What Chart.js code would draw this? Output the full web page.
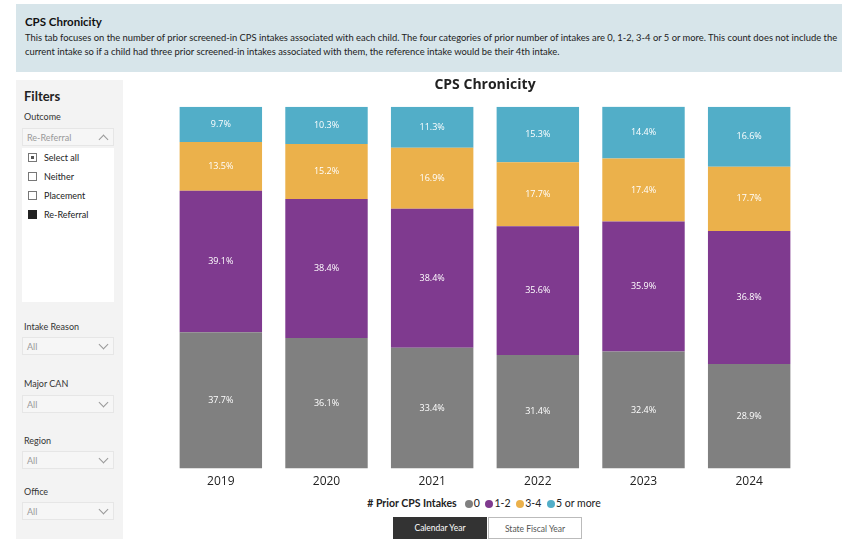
<!DOCTYPE html>
<html>
<head>
<meta charset="utf-8">
<script src="https://cdn.jsdelivr.net/npm/chart.js@4"></script>
<style>
  body { margin: 0; width: 842px; height: 539px; background: #fff; position: relative; overflow: hidden; font-family: Lato, "Open Sans", sans-serif; }
  .header { position: absolute; left: 16px; top: 4px; width: 826px; height: 68px; background: #d7e5ea; }
  .header h1 { position: absolute; left: 9px; top: 11px; margin: 0; font-size: 11.5px; font-weight: bold; color: #111; }
  .header p { position: absolute; left: 9px; top: 27px; margin: 0; font-size: 9.4px; line-height: 14px; color: #222; white-space: nowrap; }
  .panel { position: absolute; left: 16px; top: 80px; width: 107px; height: 459px; background: #f3f3f3; }
  .panel .t { position: absolute; left: 8px; top: 8px; font-size: 13px; font-weight: bold; color: #222; }
  .lbl { position: absolute; left: 8px; font-size: 9px; color: #333; }
  .dd { position: absolute; left: 6px; width: 92px; height: 18px; background: #f6f6f6; border: 1px solid #e6e6e6; box-sizing: border-box; font-size: 9px; color: #999; }
  .dd span { position: absolute; left: 4px; top: 3px; }
  .dd i { position: absolute; right: 6px; top: 3px; width: 6px; height: 6px; border-right: 1px solid #999; border-bottom: 1px solid #999; transform: rotate(45deg); }
  .dd i.up { top: 7px; transform: rotate(-135deg); }
  .list { position: absolute; left: 6px; top: 68px; width: 92px; height: 154px; background: #fff; }
  .item { position: absolute; left: 6px; font-size: 9px; color: #222; }
  .cb { position: absolute; left: 0; top: 0; width: 9px; height: 9px; border: 1px solid #777; background: #fff; box-sizing: border-box; }
  .item span { position: absolute; left: 16px; top: -1px; white-space: nowrap; }
  #wrap { position: absolute; left: 140px; top: 72px; width: 690px; height: 425px; }
  .legend { position: absolute; top: 497px; left: 0; width: 842px; text-align: center; font-size: 10.5px; color: #222; padding-left: 126px; box-sizing: border-box; }
  .legend b { margin-right: 5px; }
  .legend .d { display: inline-block; width: 8px; height: 8px; border-radius: 50%; margin: 0 1px 0 3px; vertical-align: -0.5px; }
  .btn { position: absolute; top: 517px; height: 22px; font-size: 8.5px; text-align: center; line-height: 22px; box-sizing: border-box; }
</style>
</head>
<body>
<div class="header">
  <h1>CPS Chronicity</h1>
  <p>This tab focuses on the number of prior screened-in CPS intakes associated with each child. The four categories of prior number of intakes are 0, 1-2, 3-4 or 5 or more. This count does not include the<br>current intake so if a child had three prior screened-in intakes associated with them, the reference intake would be their 4th intake.</p>
</div>

<div class="panel">
  <div class="t">Filters</div>
  <div class="lbl" style="top:31px">Outcome</div>
  <div class="dd" style="top:48px"><span>Re-Referral</span><i class="up"></i></div>
  <div class="list">
    <div class="item" style="top:5px"><div class="cb"><div style="position:absolute;left:2px;top:2px;width:3px;height:3px;background:#555"></div></div><span>Select all</span></div>
    <div class="item" style="top:24px"><div class="cb"></div><span>Neither</span></div>
    <div class="item" style="top:43px"><div class="cb"></div><span>Placement</span></div>
    <div class="item" style="top:62px"><div class="cb" style="background:#222;border-color:#222"></div><span>Re-Referral</span></div>
  </div>
  <div class="lbl" style="top:241px">Intake Reason</div>
  <div class="dd" style="top:257px"><span>All</span><i></i></div>
  <div class="lbl" style="top:298px">Major CAN</div>
  <div class="dd" style="top:315px"><span>All</span><i></i></div>
  <div class="lbl" style="top:355px">Region</div>
  <div class="dd" style="top:371px"><span>All</span><i></i></div>
  <div class="lbl" style="top:406px">Office</div>
  <div class="dd" style="top:422px"><span>All</span><i></i></div>
</div>

<div id="wrap"><canvas id="cpsChart"></canvas></div>

<div class="legend"><b># Prior CPS Intakes</b><span class="d" style="background:#808080"></span>0 <span class="d" style="background:#7f3a8f"></span>1-2 <span class="d" style="background:#ebb14b"></span>3-4 <span class="d" style="background:#52aec8"></span>5 or more</div>

<div class="btn" style="left:393px;width:94px;background:#333;color:#fff">Calendar Year</div>
<div class="btn" style="left:488px;width:94px;background:#fff;color:#555;border:1px solid #bbb">State Fiscal Year</div>

<script>
// CPS Chronicity data (percent of intakes)
const years = ['2019', '2020', '2021', '2022', '2023', '2024'];
const prior0 = [37.7, 36.1, 33.4, 31.4, 32.4, 28.9];
const prior1to2 = [39.1, 38.4, 38.4, 35.6, 35.9, 36.8];
const prior3to4 = [13.5, 15.2, 16.9, 17.7, 17.4, 17.7];
const prior5plus = [9.7, 10.3, 11.3, 15.3, 14.4, 16.6];

// draw the % label in the middle of each segment
const segmentLabels = {
  id: 'segmentLabels',
  afterDatasetsDraw(chart) {
    const ctx = chart.ctx;
    ctx.save();
    ctx.fillStyle = '#fff';
    ctx.font = '9px "Open Sans", sans-serif';
    ctx.textAlign = 'center';
    ctx.textBaseline = 'middle';
    chart.data.datasets.forEach((ds, i) => {
      chart.getDatasetMeta(i).data.forEach((bar, j) => {
        const mid = (bar.y + bar.base) / 2;
        ctx.fillText(ds.data[j].toFixed(1) + '%', bar.x, mid);
      });
    });
    ctx.restore();
  }
};

const cpsCtx = document.getElementById('cpsChart').getContext('2d');
new Chart(cpsCtx, {
  type: 'bar',
  data: {
    labels: years,
    datasets: [
      { label: '0', data: prior0, backgroundColor: '#808080' },
      { label: '1-2', data: prior1to2, backgroundColor: '#7f3a8f' },
      { label: '3-4', data: prior3to4, backgroundColor: '#ebb14b' },
      { label: '5 or more', data: prior5plus, backgroundColor: '#52aec8' }
    ]
  },
  options: {
    responsive: true,
    maintainAspectRatio: false,
    animation: false,
    categoryPercentage: 1,
    barPercentage: 0.78,
    layout: { padding: { left: 28, right: 28, bottom: 2 } },
    plugins: {
      legend: { display: false },
      tooltip: { enabled: false },
      title: {
        display: true,
        text: 'CPS Chronicity',
        color: '#222',
        font: { family: '"Open Sans", sans-serif', size: 14, weight: 'bold' },
        padding: { top: 5, bottom: 13 }
      }
    },
    scales: {
      x: {
        stacked: true,
        grid: { display: false, drawTicks: false },
        border: { display: false },
        ticks: { color: '#222', padding: 6, font: { family: '"Open Sans", sans-serif', size: 12 } }
      },
      y: { stacked: true, display: false, min: 0, max: 100 }
    }
  },
  plugins: [segmentLabels]
});
</script>
</body>
</html>
